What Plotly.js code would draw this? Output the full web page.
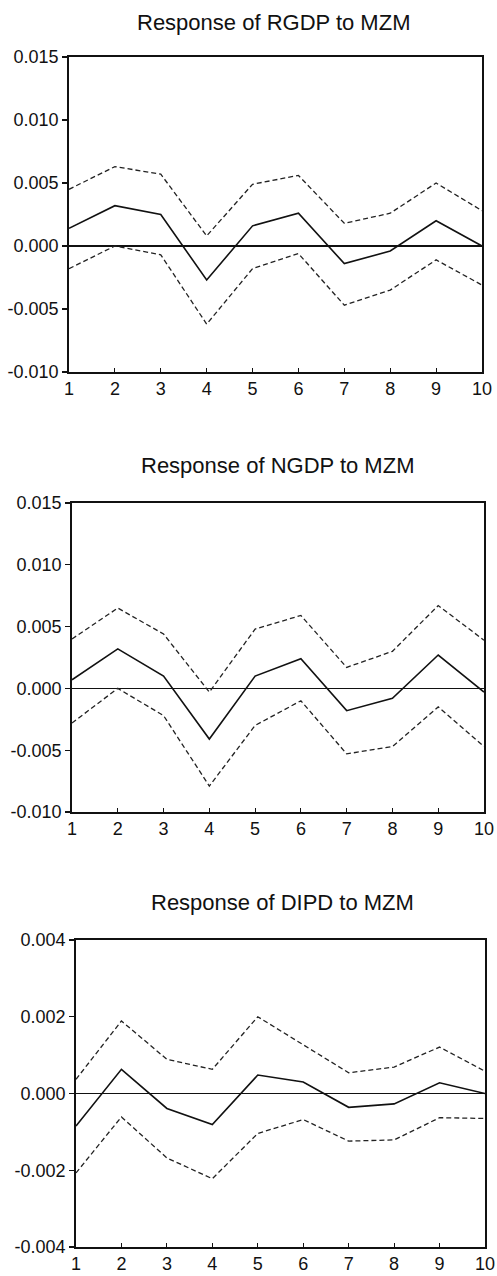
<!DOCTYPE html>
<html>
<head>
<meta charset="utf-8">
<script src="https://cdn.plot.ly/plotly-3.0.1.min.js"></script>
<style>html,body{margin:0;padding:0;background:#fff;}#chart{width:497px;height:1276px;}</style>
</head>
<body>
<div id="chart"></div>
<script>
const periods = [1,2,3,4,5,6,7,8,9,10];

const titles = ["Response of RGDP to MZM", "Response of NGDP to MZM", "Response of DIPD to MZM"];

const rgdpResp  = [0.0014, 0.0032, 0.0025, -0.0027, 0.0016, 0.0026, -0.0014, -0.0004, 0.0020, 0.0000];
const rgdpUpper = [0.0045, 0.0063, 0.0057, 0.0008, 0.0049, 0.0056, 0.0018, 0.0026, 0.0050, 0.0028];
const rgdpLower = [-0.0018, 0.0000, -0.0007, -0.0062, -0.0018, -0.0006, -0.0047, -0.0035, -0.0011, -0.0031];

const ngdpResp  = [0.0007, 0.0032, 0.0010, -0.0041, 0.0010, 0.0024, -0.0018, -0.0008, 0.0027, -0.0003];
const ngdpUpper = [0.0040, 0.0065, 0.0044, -0.0003, 0.0048, 0.0059, 0.0017, 0.0030, 0.0067, 0.0039];
const ngdpLower = [-0.0028, 0.0000, -0.0022, -0.0079, -0.0030, -0.0010, -0.0053, -0.0047, -0.0015, -0.0047];

const dipdResp  = [-0.00085, 0.00063, -0.00039, -0.00081, 0.00048, 0.00030, -0.00036, -0.00027, 0.00028, 0.00000];
const dipdUpper = [0.00037, 0.00189, 0.00089, 0.00063, 0.00200, 0.00128, 0.00054, 0.00069, 0.00121, 0.00058];
const dipdLower = [-0.00207, -0.00061, -0.00168, -0.00222, -0.00104, -0.00068, -0.00124, -0.00121, -0.00063, -0.00065];

const gdpTicks  = [-0.010, -0.005, 0.000, 0.005, 0.010, 0.015];
const dipdTicks = [-0.004, -0.002, 0.000, 0.002, 0.004];

const W = 497, H = 1276;
// panel boxes in pixels: [left, right, top, bottom]
const boxes = [[69, 482, 57, 372], [72, 484, 503, 812], [76, 485, 940, 1247]];
const titlePos = [[273, 22], [277, 465], [282, 903]];
const series = [[rgdpResp, rgdpUpper, rgdpLower], [ngdpResp, ngdpUpper, ngdpLower], [dipdResp, dipdUpper, dipdLower]];
const tickSets = [gdpTicks, gdpTicks, dipdTicks];

const font = "Liberation Sans, Arial, Helvetica, sans-serif";
const traces = [];
const layout = {
  width: W, height: H,
  margin: {l: 0, r: 0, t: 0, b: 0},
  paper_bgcolor: "#fff", plot_bgcolor: "#fff",
  showlegend: false,
  font: {family: font, color: "#111", size: 18},
  annotations: []
};

for (let i = 0; i < 3; i++) {
  const xa = i === 0 ? "x" : "x" + (i + 1);
  const ya = i === 0 ? "y" : "y" + (i + 1);
  const [resp, up, lo] = series[i];
  traces.push({x: periods, y: up, xaxis: xa, yaxis: ya, mode: "lines", line: {color: "#222", width: 1.3, dash: "5px,3px"}, hoverinfo: "skip"});
  traces.push({x: periods, y: lo, xaxis: xa, yaxis: ya, mode: "lines", line: {color: "#222", width: 1.3, dash: "5px,3px"}, hoverinfo: "skip"});
  traces.push({x: periods, y: resp, xaxis: xa, yaxis: ya, mode: "lines", line: {color: "#111", width: 1.6}, hoverinfo: "skip"});
  const b = boxes[i];
  const ticks = tickSets[i];
  const xKey = i === 0 ? "xaxis" : "xaxis" + (i + 1);
  const yKey = i === 0 ? "yaxis" : "yaxis" + (i + 1);
  layout[xKey] = {
    domain: [b[0] / W, b[1] / W], anchor: ya,
    range: [1, 10], tickvals: periods, ticktext: periods.map(String),
    showline: true, mirror: true, linecolor: "#111", linewidth: 1.8,
    ticks: "inside", ticklen: 4, tickcolor: "#111", tickwidth: 1.2,
    showgrid: false, zeroline: false, fixedrange: true,
    ticklabeloverflow: "allow",
    tickfont: {size: 18, family: font, color: "#111"}
  };
  layout[yKey] = {
    domain: [1 - b[3] / H, 1 - b[2] / H], anchor: xa,
    range: [ticks[0], ticks[ticks.length - 1]],
    tickvals: ticks, ticktext: ticks.map(v => v.toFixed(3)),
    showline: true, mirror: true, linecolor: "#111", linewidth: 1.8,
    ticks: "outside", ticklen: 5, tickcolor: "#111", tickwidth: 1.2,
    showgrid: false, zeroline: true, zerolinecolor: "#111", zerolinewidth: 1.2,
    fixedrange: true, ticklabeloverflow: "allow",
    tickfont: {size: 18, family: font, color: "#111"}
  };
  layout.annotations.push({
    text: titles[i], xref: "paper", yref: "paper",
    x: titlePos[i][0] / W, y: 1 - titlePos[i][1] / H,
    xanchor: "center", yanchor: "middle", showarrow: false,
    font: {size: 22, family: font, color: "#111"}
  });
}

Plotly.newPlot("chart", traces, layout, {staticPlot: true, displayModeBar: false});
</script>
</body>
</html>
